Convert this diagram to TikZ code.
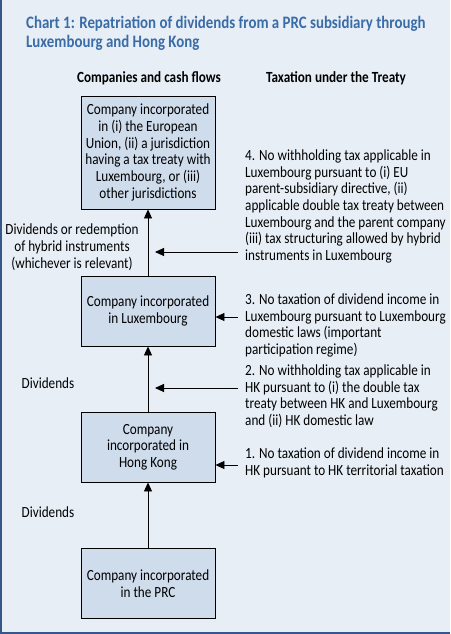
\documentclass[tikz,border=0pt]{standalone}
\usepackage{fontspec}
\setmainfont[FakeStretch=0.85]{Carlito}
\usetikzlibrary{arrows.meta, positioning, calc}
\definecolor{chartbg}{RGB}{231,238,246}
\definecolor{boxfill}{RGB}{206,220,236}
\definecolor{titleblue}{RGB}{58,108,168}
\definecolor{frameblue}{RGB}{52,88,138}

\tikzset{
  company/.style={draw=black, line width=0.9pt, fill=boxfill, minimum width=134pt,
    minimum height=70pt, align=center, inner sep=2pt,
    font=\fontsize{15.5}{16.7}\selectfont},
  taxnote/.style={anchor=north west, align=left, inner sep=0pt,
    font=\fontsize{15.5}{16.7}\selectfont},
  flowlabel/.style={align=center, inner sep=0pt,
    font=\fontsize{15.5}{16.7}\selectfont},
  colhead/.style={font=\fontsize{15.5}{16.7}\selectfont\bfseries, inner sep=0pt},
  flow/.style={-{Triangle[length=9pt,width=8pt]}, line width=0.9pt}
}

\begin{document}
\begin{tikzpicture}[x=1pt, y=-1pt]
    %% Frame
    \fill[chartbg] (0,0) rectangle (450,634);
    \useasboundingbox (0,0) rectangle (450,634);
    \draw[frameblue, line width=1.6pt] (0.8,0) -- (0.8,633.2) -- (450,633.2);

    %% Title
    \node[anchor=north west, align=left, inner sep=0pt, text=titleblue,
      font=\fontsize{17.5}{19}\selectfont\bfseries] (title) at (26,16)
      {Chart 1: Repatriation of dividends from a PRC subsidiary through\\
       Luxembourg and Hong Kong};

    %% Column heads
    \node[colhead] (headleft) at (149,78) {Companies and cash flows};
    \node[colhead] (headright) at (336,78) {Taxation under the Treaty};

    %% Companies
    \node[company, minimum height=113pt] (parent) at (148,152.5)
      {Company incorporated\\in (i) the European\\Union, (ii) a jurisdiction\\
       having a tax treaty with\\Luxembourg, or (iii)\\other jurisdictions};
    \node[company] (lux) at (148,311) {Company incorporated\\in Luxembourg};
    \node[company] (hk) at (148,447) {Company\\incorporated in\\Hong Kong};
    \node[company] (prc) at (148,583.5) {Company incorporated\\in the PRC};

    %% Cash flows
    \draw[flow] (prc) -- (hk);
    \draw[flow] (hk) -- (lux);
    \draw[flow] (lux) -- (parent);

    \node[flowlabel] (redeem) at (72,247)
      {Dividends or redemption\\of hybrid instruments\\(whichever is relevant)};
    \node[flowlabel] (divlux) at (48,383) {Dividends};
    \node[flowlabel] (divhk) at (48,512) {Dividends};

    %% Taxation notes
    \node[taxnote] (note4) at (245,149.5)
      {4. No withholding tax applicable in\\Luxembourg pursuant to (i) EU\\
       parent-subsidiary directive, (ii)\\applicable double tax treaty between\\
       Luxembourg and the parent company\\(iii) tax structuring allowed by hybrid\\
       instruments in Luxembourg};
    \node[taxnote] (note3) at (245,293.5)
      {3. No taxation of dividend income in\\Luxembourg pursuant to Luxembourg\\
       domestic laws (important\\participation regime)};
    \node[taxnote] (note2) at (245,364.5)
      {2. No withholding tax applicable in\\HK pursuant to (i) the double tax\\
       treaty between HK and Luxembourg\\and (ii) HK domestic law};
    \node[taxnote] (note1) at (245,447.5)
      {1. No taxation of dividend income in\\HK pursuant to HK territorial taxation};

    %% Note arrows
    \coordinate (from4) at (238,252);
    \coordinate (to4) at (155,252);
    \coordinate (from3) at (238,317);
    \coordinate (from2) at (238,388);
    \coordinate (to2) at (155,388);
    \coordinate (from1) at (238,465);

    \draw[flow] (from4) -- (to4);
    \draw[flow] (from3) -- (lux.east |- from3);
    \draw[flow] (from2) -- (to2);
    \draw[flow] (from1) -- (hk.east |- from1);
\end{tikzpicture}
\end{document}
